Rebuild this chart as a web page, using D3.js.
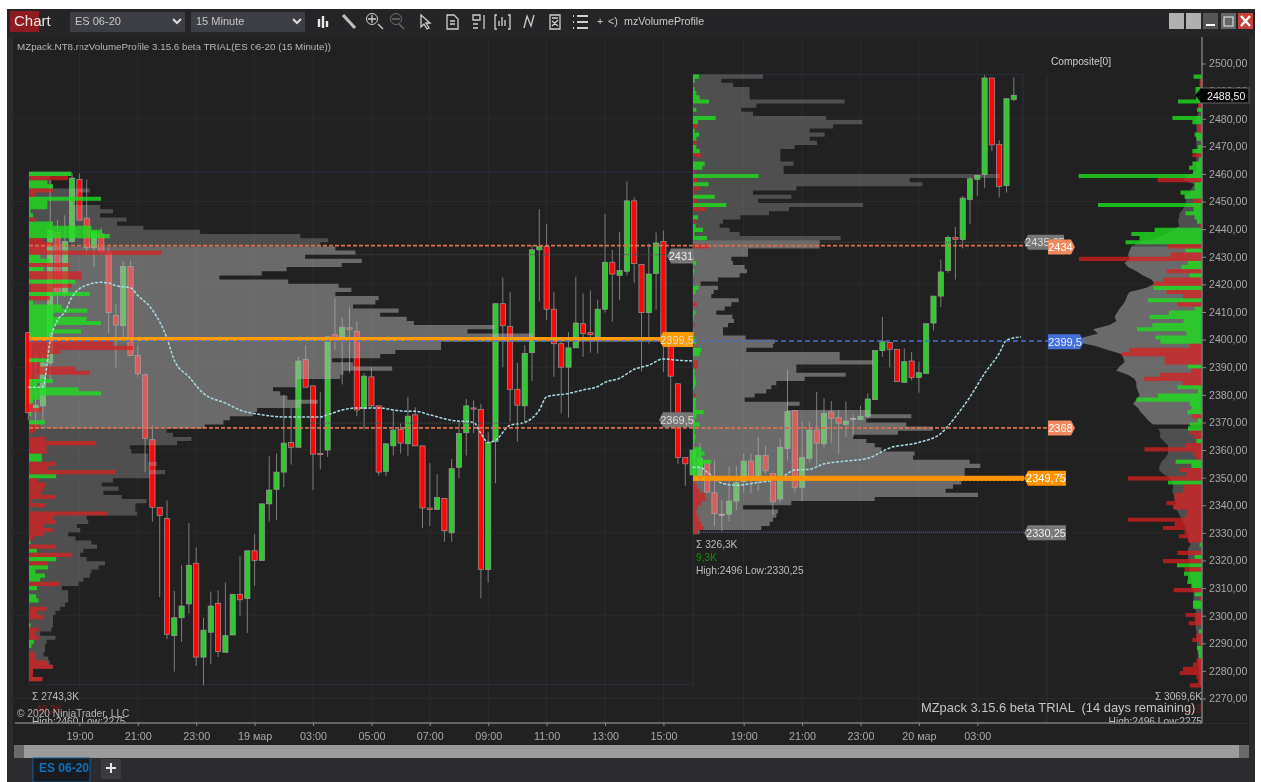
<!DOCTYPE html>
<html><head><meta charset="utf-8"><title>mzVolumeProfile</title>
<style>
  html, body { margin: 0; padding: 0; background: #fff; overflow: hidden; }
  svg { display: block; font-family: 'Liberation Sans', Arial, sans-serif; filter: blur(0.5px); }
</style>
</head>
<body>
<svg id="chart" width="1261" height="782"></svg>
<script src="https://d3js.org/d3.v7.min.js"></script>
<script>
// bar data, one entry per 15 minute bar
const open = [2402.5,2374,2376,2391.5,2438.75,2416.75,2435.5,2458,2444,2433.25,2438.25,2431.5,2408.75,2405,2426.5,2394.25,2387.25,2363.75,2339.25,2335.25,2292.75,2299.25,2304.25,2319,2285,2294,2304.5,2286.75,2293,2307.75,2306.25,2323.5,2320,2340.5,2345.75,2352,2362.75,2361,2392.75,2383.25,2358.75,2360,2401.75,2401,2404.25,2403,2375,2386.5,2376,2352.25,2361.5,2367.5,2362.25,2372.75,2361.5,2339,2338.5,2342.5,2330,2353.75,2366.25,2375.25,2374.75,2316.75,2363,2413,2404.75,2382,2376,2395.25,2432.5,2433.75,2411,2398.5,2390,2397,2405.75,2402.5,2401,2411,2428,2423.25,2424.75,2450.25,2427.25,2409.75,2424,2435.5,2399.75,2384,2357.25,2351,2349.75,2356,2344.5,2336.75,2336.75,2341.5,2348.5,2356,2349,2358,2351.5,2342.25,2360.5,2374.25,2346.5,2357,2367.25,2362.25,2373.75,2371.75,2369.25,2371.5,2371,2372.25,2378.25,2396,2399,2396.5,2384.5,2392.25,2386.25,2387.75,2406,2415.75,2425,2437,2436.25,2450.75,2458,2459.75,2494.75,2470.75,2455.75,2487];
const high = [2402.5,2395,2394.5,2457.75,2443.25,2445,2460.25,2460.25,2458,2439.75,2440.5,2433.25,2412.75,2428.5,2428.5,2398,2387.75,2369,2339.25,2341.75,2309,2318.25,2333.5,2324.75,2299.25,2308.75,2309.25,2312,2307.75,2321.5,2323.5,2329.5,2340.5,2357.75,2358.75,2380,2375.25,2393.75,2398,2383.25,2381,2401,2415,2408,2411.75,2406.5,2387.75,2390,2376,2362.5,2374.5,2369.75,2379.25,2375.5,2361.5,2355.25,2351.25,2342.5,2356.75,2370.25,2378.5,2378,2376.75,2366.5,2413,2422.5,2417.25,2391.5,2398,2434.25,2447.25,2441.75,2417.25,2401,2402.75,2422.75,2416.75,2417.75,2414.5,2445.5,2432.5,2439,2457.25,2451.5,2427.25,2434.75,2438.75,2439.5,2399.75,2384,2357.25,2360,2362.5,2356,2356.25,2341.75,2354,2354.25,2358.75,2358.75,2364.75,2361.5,2351.5,2364.25,2389,2374.25,2370.25,2370.25,2381,2378.75,2377.75,2374.5,2377.5,2372.75,2376,2380.5,2396,2408.25,2399,2396.5,2396.75,2395.5,2392,2405.75,2415.75,2429,2437.75,2440.75,2452,2458.75,2459.5,2495.75,2494.75,2472.25,2487.25,2495];
const low = [2370.75,2368.25,2370.75,2385.25,2410.75,2415.5,2435,2443.25,2431,2426.25,2430.75,2402.25,2389.75,2401,2394,2386.5,2352,2334,2306.75,2291.5,2279.75,2290.5,2300.75,2281.75,2274.75,2282.5,2285,2286.75,2293,2299.75,2293.75,2310.75,2320,2334,2334.75,2346.5,2354.75,2361,2382.75,2345.5,2353,2357.5,2396.25,2383.75,2388,2372.25,2367.5,2375.25,2350.75,2350.5,2358,2358.75,2357.75,2361.5,2331.75,2332.5,2338.25,2326.75,2326.75,2349.75,2358,2366,2306.25,2312,2348,2390,2370.25,2363,2370.25,2385,2413.75,2407,2386.5,2373.25,2371.75,2397,2393.75,2395.25,2395,2409.75,2406.5,2414.25,2423.25,2420.5,2388.5,2398.5,2410.75,2388.25,2371.5,2355,2347,2351,2349.75,2344.75,2332.5,2330.5,2334.25,2338.25,2344.5,2344.5,2345.25,2351.25,2336.5,2341,2356.25,2344.5,2341.5,2355.5,2354,2360.75,2362.5,2358.5,2364.75,2364.75,2370.75,2371.25,2378.25,2393.75,2390,2384.75,2384.25,2385.25,2380.75,2387.75,2403.25,2411.75,2424.25,2421.75,2433,2441.75,2452,2455,2468.25,2451.5,2453.25,2486.25];
const close = [2373.5,2376.25,2391.5,2439.5,2416.75,2435.5,2458.5,2443.25,2433.25,2439,2431.75,2409.75,2405.25,2426.5,2394.25,2387.75,2364.25,2339.25,2336.25,2293.25,2299.25,2303.5,2318.25,2285,2294.75,2303.5,2287,2292.75,2307.75,2305.75,2323.5,2320,2340.5,2345.5,2352,2362.5,2361,2392.25,2382.75,2358.5,2358.5,2401,2400.5,2404.5,2403.75,2374.5,2386.75,2376,2352,2362.25,2367.25,2362.5,2372.25,2361.5,2339,2338.5,2342.75,2330.75,2353.25,2366,2376,2375,2316.75,2362.75,2413,2405,2382,2376.25,2395,2432.5,2433.75,2411,2398.5,2390,2397,2406,2402.25,2401.75,2411,2428,2423.75,2425,2450.25,2427.5,2409.75,2423.75,2435,2400.5,2386.75,2357.25,2355,2360,2357,2344.75,2337,2336.75,2341.5,2348.25,2356,2349,2358,2352.5,2341.25,2361,2374,2346.5,2357.25,2367.25,2362.5,2373.25,2371.5,2369.75,2370.5,2371.5,2372.25,2378.5,2396,2399.25,2396.5,2384.75,2392,2386.25,2388,2405.75,2415.75,2424.5,2437,2436.25,2451.25,2458.25,2459.5,2494.75,2470.5,2455.5,2487.25,2488.5];

// session 1 profile, K contracts per 1,5 point row from the top
const vol1 = [5.3,2.6,2.8,3,7.6,6.2,5.8,5.5,8.9,10.5,8.9,12.2,11,14.3,21.4,33.9,37.4,36.4,38.3,40.8,34.5,41.6,39.1,32.2,29.1,23.8,32.4,38.7,40.3,38.3,43.7,43.3,40.5,46.2,43.9,47.2,48.1,58.2,54.8,63,83,51.5,51.5,45.8,43.9,37.9,40.5,45.4,39.3,38.9,33.5,33.5,30.5,31.4,32.3,36.1,33.9,28.5,28,25.1,24.3,22,17.2,18,20.3,18.5,12.6,12.8,14.9,14.9,16,15.1,17,15.1,10.5,9.1,11.2,9.3,11.6,14.7,13.3,13.3,13.5,7.2,7.4,6,6.4,4.9,5.8,7.8,8.5,6.8,6.4,7.2,9.5,8.7,7.8,7.6,6.8,6.2,4.1,4.9,4.9,4.9,4.5,3.9,3.3,3,3,3,2.8,1.4,3.3,2.2,2,2,1.8,2.4,2.6,3,0.5,0.3,1.6];
const delta1 = [5.3,-4.9,2.3,3,-3,-0.8,9,2.3,2.3,0.2,0.5,-0.8,3,7.8,9.1,10.1,-1.8,-3,-2.2,-16.6,1.4,2.6,-5,1.8,-6.6,-6.6,5.8,-5.3,-3,7.6,-2.6,0.5,4.1,7.3,3,7.2,9,3,6.5,2.6,-10.5,-10.5,-13,-3.9,-2.6,2.2,-1.4,-5.8,-7.6,-1,3,1,6.2,9,1.4,0.5,-0.5,-1.6,0.3,-0.1,2,-1.4,-0.8,-0.1,-2,-8.3,-2.2,-2.2,1.6,1.6,-3.3,-2.4,-10.9,3.4,-1,-2,-1.8,-1.6,-3.3,-0.3,-2.1,-0.1,-9.8,-3.1,-3.3,-1.8,-3,-1.8,-0.5,0.2,-3.3,1,-5.3,3.4,-2.4,2.4,0.8,2,1.4,-3.9,1,-0.1,0.9,1.2,-0.1,-2.2,-1,-1.8,-0.1,0.2,-1.2,-0.8,-1.2,0.6,0.3,-0.1,-0.8,-0.9,-2.4,-3,-0.5,-0.5,-1.7];

// session 2 profile
const vol2 = [2.1,0.85,1.2,1.7,1.7,1.7,4.55,1.9,1.45,1.8,4,5.08,4.2,3.5,3.95,3.5,3.72,3.05,2.62,2.62,2.62,3.02,2.72,2.72,9.2,6.5,6.88,3.1,1.8,2.95,1.95,5.1,2.88,2.28,1.42,0.9,0.8,1.1,1.4,4.43,3.8,3.8,1.65,1.65,1.15,1.2,1.55,1.62,1.4,0.75,0.23,0.75,0.62,0.55,1.37,1.15,0.95,0.7,1.18,1.23,1.05,0.9,0.9,1.58,2.45,2.4,1.6,4.4,4.4,5.4,3.1,3.1,4.58,3.35,2.5,2.35,2.2,1.85,1.55,3.2,2.85,5.3,6.55,5.2,6.4,7.2,6.15,4.8,5.2,5.45,5.65,6.65,6.6,8.3,8.62,8.15,8.15,9.8,8.05,7.8,7.58,8.55,5.45,2.95,1.5,2.55,2.5,2.4,2.3,2.05,0.2];
const delta2 = [0.18,0.05,0,0.05,0.1,0.2,0.48,0,0.1,0,0.68,0.15,-0.12,0.05,0.18,0.1,-0.1,0.1,0.2,-0.25,0,0.35,0.28,-0.05,1.97,-0.12,0.47,-0.18,-0.05,0.65,-0.12,1,-0.38,0,0.15,-0.08,0.08,0.3,0.05,0.42,0,-0.48,0,0,0.03,0.1,0,0.05,0,-0.03,0,0.17,0.08,0,0,-0.12,0,0.08,0.03,0,-0.05,0,0.03,0.05,0.1,-0.03,0.25,0.2,0,-0.15,-0.15,0.05,0.05,0.08,0.1,0.05,0,-0.08,0.1,0.08,0.08,0.32,0.1,0.05,0.2,0.05,0.05,0.08,0.06,0.03,0.25,0.35,0.25,0.55,0.3,0.15,0.15,0.15,-0.05,-0.12,-0.2,-0.35,-0.4,-0.25,-0.15,-0.1,-0.12,-0.2,-0.25,-0.32,-0.15];

// composite profile on the right edge
const volC = [0.8,1,1.2,1.5,1.5,1.5,1.5,1.5,1.5,2,2.8,2.8,2.8,2.8,2.8,2.8,2.8,2.8,2.8,2.8,2.8,2.8,2.8,2.8,7.8,9.2,3.7,5.3,6.2,8.7,7.8,8.7,9.5,11.2,11.5,12,11.2,14.5,17.8,23.7,31.2,35.3,36.2,37,36.2,38.7,37,32.8,29.5,25.3,23.7,27.8,36.2,37.5,38.2,39.5,41.2,42.5,43.7,42.8,46.2,54.5,52,59.5,63.7,53.7,47,40.3,39.2,38.7,41.2,42.8,37,33.7,32.8,32.8,32,31.2,32.8,34.5,32,30.7,28.7,27,24.5,22,20.8,21.2,19.2,17,17,17,18.2,20.3,21.2,21.5,19.2,15.8,14.5,14.5,14.8,14.2,13.7,12.8,14.5,12,11.2,9.8,9.2,8.2,7.3,7,6.5,5.8,7,7,7,6.5,6.2,6.2,6.2,5.8,5.3,4.8,4.5,4.2,4.2,4.2,3.7,3.2,3.2,3.2,3.2,3.2,2.8,2.8,2.5,2.5,2.5,2.2,2.2,1.8,1.8,1.5,1.5,1.2,1.2,0.8];
const deltaC = [4.2,-1.2,-1,3.2,3.2,3,12,-2,2.5,0.5,14.8,4.8,-2,-2,3.7,2.8,0.5,2,4.8,-4.8,1.5,4.8,6.5,4.5,61.7,-22.2,3.7,3.7,10.7,8.7,-4.5,52,4.2,8.3,3.7,2.5,-1.2,23.7,35.3,31.2,38.2,-17.3,8.3,-15.7,-61.5,7,10.3,-17.8,6.2,-19.5,-24.2,24.2,-17.8,-9.5,27,-12.5,3.7,16.5,26.2,9.2,24.8,32.5,7.8,23.2,20.8,-6,-36.5,-40,-18.7,-18.7,7,-5.3,-21.2,-29,-9.8,12.2,2,22,32.8,6.2,5.3,7.3,-5.3,2,6.2,7,-6.2,-3.7,2.8,-8.3,-28.7,-4.5,-3.2,13.2,5.3,-11.2,-7.8,-37,17,-9.5,-9.5,-13.7,-13.7,-17.8,-14.5,-7.5,-7.8,-37,-13.7,-19.5,-8.7,-11.5,-7,1.2,-0.3,-12.3,3.7,-19.5,12.5,-8.7,9,7,7.3,5.3,-14.2,3.7,-1.2,4.5,4.5,0.3,-8.3,-3.7,-6.7,-0.3,1.5,-2.8,-4.8,-1.5,2.5,1.7,1.5,-2.8,-4.5,-9.5,-11.2,-2.8,-2,-6.2];

// dashed average line, bar number and price
const maBars1 = [0,2,3,4,5,6,8,10,11,12,14,15,17,19,20,22,24,27,29,32,35,38,40,41,43,45,48,50,52,53,55,58,61,62,63,64,66,68,70,71,74,76,78,79,81,83,85,87,89,91];
const maPrice1 = [2382.75,2382.75,2399.75,2407,2410,2415.5,2419.75,2420.75,2420.5,2419.5,2418.75,2416,2410.75,2400.5,2392.5,2386.5,2380.5,2377,2374.5,2372.75,2372,2372,2372,2372.75,2374.5,2375.25,2375.25,2374.5,2374,2374,2372.75,2370.75,2370,2366,2362.75,2363.5,2369,2370,2374.5,2379.25,2380.5,2381.75,2383,2384.5,2386,2389.25,2390.75,2393,2392.5,2392.25];
const maBars2 = [91,92,93,95,97,100,103,105,107,109,112,115,118,122,125,127,129,131,133,134,136];
const maPrice2 = [2353.75,2353.75,2352,2348,2347.25,2348.25,2349.75,2352.75,2353,2355,2356,2357,2360.75,2362.75,2366,2372,2379.25,2387.75,2395,2399.75,2401];

const priceTicks = d3.range(2270, 2501, 10);
const gridPrices = [2270,2300,2330,2360,2390,2420,2450,2480];
const timeBars = [7,15,23,31,39,47,55,63,71,79,87,98,106,114,122,130];
const timeLabels = ['19:00','21:00','23:00','19 мар','03:00','05:00','07:00','09:00','11:00','13:00','15:00','19:00','21:00','23:00','20 мар','03:00'];

const svg = d3.select('#chart');
const comma = v => String(v).replace('.', ',');

const xBar = d3.scaleLinear().domain([0, 135]).range([28.3, 1013.8]);
const y = d3.scaleLinear().domain([2270, 2500]).range([698.5, 63.5]);
const vol1X = d3.scaleLinear().domain([0, 83]).range([29, 693]);
const vol2X = d3.scaleLinear().domain([0, 9.9]).range([693, 1023]);
const compX = d3.scaleLinear().domain([0, 60]).range([1202, 1082]);
const rowSize = 1.5;

const lightGray = 'rgba(180,180,180,0.5)';
const darkGray = 'rgba(186,186,186,0.3)';
const buyColor = 'rgba(30,222,30,0.8)';
const sellColor = 'rgba(222,30,30,0.72)';

// window frame
function box(x, yy, w, h, fill, stroke) {
  return svg.append('rect').attr('x', x).attr('y', yy).attr('width', w).attr('height', h)
    .attr('fill', fill).attr('stroke', stroke || 'none');
}
function label(x, yy, str, size, color, anchor) {
  return svg.append('text').attr('x', x).attr('y', yy).text(str)
    .attr('font-size', size).attr('fill', color).attr('text-anchor', anchor || 'start');
}
function stroke(d, color, w) {
  svg.append('path').attr('d', d).attr('fill', 'none').attr('stroke', color || '#cfcfcf').attr('stroke-width', w || 1.3);
}

box(7, 9, 1248, 773, '#2c2c2e');
box(7, 9, 1248, 28, '#252527');
box(13, 37, 1236, 686, '#212121');
box(10, 11, 29, 21, '#8e1b1f');
label(14, 26, 'Chart', 15, '#f2e6e6');
box(70, 12, 115, 20, '#3d3f44');
label(75, 25, 'ES 06-20', 11, '#c8c8c8');
box(191, 12, 114, 20, '#3d3f44');
label(196, 25, '15 Minute', 11, '#c8c8c8');
stroke('M173 19l4 4l4 -4', '#ddd', 2);
stroke('M293 19l4 4l4 -4', '#ddd', 2);

// toolbar icons
stroke('M319 19v8M323 16v12M327 21v6', '#e8e8e8', 2.4);
stroke('M343 15l12 13', '#bdbdbd', 3.2);
stroke('M378 24l5 5M368 19h8M372 15v8');
svg.append('circle').attr('cx', 372).attr('cy', 19).attr('r', 5.5).attr('fill', 'none').attr('stroke', '#cfcfcf');
stroke('M399 24l5 5M392 19h8', '#6e6e6e');
svg.append('circle').attr('cx', 396).attr('cy', 19).attr('r', 5.5).attr('fill', 'none').attr('stroke', '#6e6e6e');
stroke('M421 15l0 12l3 -3l3 5l2 -1l-3 -5l4 0z');
stroke('M447 15h7l4 4v10h-11zM450 21h5M450 24h5');
stroke('M473 15h7v5h-7zM484 15v14M473 24h5M473 28h5');
stroke('M497 15h-2v14h2M508 15h2v14h-2M499 26v-5M502 26v-9M505 26v-6');
stroke('M524 28l3 -12l4 10l3 -11');
stroke('M550 15h10v14h-10zM552 18h6M552 26l6 -6M552 21l6 5');
stroke('M577 16h11M577 22h11M577 28h11M573 16h1M573 22h1M573 28h1', '#cfcfcf', 2);
label(597, 25, '+', 10.7, '#c8c8c8');
label(608, 25, '<)', 10.7, '#c8c8c8');
label(624, 25, 'mzVolumeProfile', 10.7, '#c8c8c8');

// window buttons
box(1169, 13, 15, 16, '#b0b0b0');
box(1186, 13, 15, 16, '#b0b0b0');
box(1203, 13, 15, 16, '#555');
stroke('M1206 25h9', '#fff', 2);
box(1221, 13, 15, 16, '#666');
box(1224, 17, 9, 9, 'none', '#eee');
box(1238, 13, 15, 16, '#c8403c');
stroke('M1241 16l9 10M1250 16l-9 10', '#fff', 2.4);

label(17, 50, 'MZpack.NT8.mzVolumeProfile 3.15.6 beta TRIAL(ES 06-20 (15 Minute))', 9.8, '#b8b8b8');
label(1051, 65, 'Composite[0]', 10.2, '#cccccc');

// grid
svg.append('g').selectAll('line').data(gridPrices).enter().append('line')
  .attr('x1', 13).attr('x2', 1202).attr('y1', d => y(d)).attr('y2', d => y(d)).attr('stroke', '#2a2a2a');
svg.append('g').selectAll('line').data(timeBars).enter().append('line')
  .attr('x1', d => xBar(d)).attr('x2', d => xBar(d)).attr('y1', 37).attr('y2', 723).attr('stroke', '#2a2a2a');

// profile outlines
const outline = [[vol1X(0), vol1X(83), 2460.75, 2275], [vol2X(0), vol2X(9.9), 2496, 2330.25]];
outline.forEach(b => {
  box(b[0], y(b[2]), b[1] - b[0], y(b[3]) - y(b[2]), 'none', '#2a3040');
});
svg.append('line').attr('x1', 1047).attr('x2', 1047).attr('y1', y(2496)).attr('y2', 723).attr('stroke', '#2a3040');

// candles
const n = open.length;
const bars = d3.range(n);
const candles = svg.append('g');
candles.selectAll('line').data(bars).enter().append('line')
  .attr('x1', i => xBar(i)).attr('x2', i => xBar(i))
  .attr('y1', i => y(high[i])).attr('y2', i => y(low[i]))
  .attr('stroke', '#7c7c7c').attr('stroke-width', 1);
candles.selectAll('rect').data(bars).enter().append('rect')
  .attr('x', i => xBar(i) - 2.6).attr('width', 5.2)
  .attr('y', i => y(Math.max(open[i], close[i])))
  .attr('height', i => Math.max(1.2, Math.abs(y(open[i]) - y(close[i]))))
  .attr('fill', i => close[i] > open[i] ? '#2fc92f' : (close[i] < open[i] ? '#ff0606' : '#d8d8d8'))
  .attr('stroke', '#9a9a9a').attr('stroke-width', 0.7);

// one path per colour so the rows have no seams between them
function rowsPath(rows, top, edge0, edge1) {
  const p = d3.path();
  rows.forEach(r => {
    const t = y(top - rowSize * r.k), h = y(top - rowSize * (r.k + 1)) - t;
    p.rect(Math.min(edge0(r.v), edge1(r.v)), t, Math.abs(edge1(r.v) - edge0(r.v)), h);
  });
  return p.toString();
}
function profile(vols, deltas, top, xs, isValue) {
  const rows = vols.map((v, k) => ({ v: v, k: k, p: top - rowSize * k }));
  const dRows = deltas.map((v, k) => ({ v: Math.abs(v), k: k, buy: v > 0 })).filter(r => r.v > 0);
  const from = () => xs(0), to = r => xs(r);
  svg.append('path').attr('d', rowsPath(rows.filter(r => isValue(r.p)), top, from, to)).attr('fill', lightGray);
  svg.append('path').attr('d', rowsPath(rows.filter(r => !isValue(r.p)), top, from, to)).attr('fill', darkGray);
  svg.append('path').attr('d', rowsPath(dRows.filter(r => r.buy), top, from, to)).attr('fill', buyColor);
  svg.append('path').attr('d', rowsPath(dRows.filter(r => !r.buy), top, from, to)).attr('fill', sellColor);
}
profile(vol1, delta1, 2460.75, vol1X, p => p <= 2434 && p >= 2368);
profile(vol2, delta2, 2496, vol2X, p => p <= 2436);

// composite, smooth outline in two tones
const compRows = volC.map((v, k) => ({ v: v, p: 2496 - rowSize * k - rowSize / 2 }));
const compArea = d3.area().y(d => y(d.p)).x0(compX(0)).x1(d => compX(d.v));
svg.append('path').attr('d', compArea.defined(d => d.p <= 2434 && d.p >= 2368)(compRows)).attr('fill', lightGray);
svg.append('path').attr('d', compArea.defined(d => d.p >= 2433.5)(compRows)).attr('fill', darkGray);
svg.append('path').attr('d', compArea.defined(d => d.p <= 2368.5)(compRows)).attr('fill', darkGray);
const compDelta = deltaC.map((v, k) => ({ v: Math.abs(v), k: k, buy: v > 0 }));
const compFrom = () => compX(0), compTo = v => compX(v);
svg.append('path').attr('d', rowsPath(compDelta.filter(r => r.buy), 2496, compFrom, compTo)).attr('fill', buyColor);
svg.append('path').attr('d', rowsPath(compDelta.filter(r => !r.buy), 2496, compFrom, compTo)).attr('fill', sellColor);

// average lines
const maLine = d3.line().x(d => xBar(d[0])).y(d => y(d[1])).curve(d3.curveMonotoneX);
[[maBars1, maPrice1], [maBars2, maPrice2]].forEach(m => {
  svg.append('path').attr('d', maLine(d3.zip(m[0], m[1]))).attr('fill', 'none')
    .attr('stroke', '#a9dbe6').attr('stroke-width', 1.5).attr('stroke-dasharray', '3 1.5');
});

// level lines
function level(price, x0, x1, color, w, dash) {
  svg.append('line').attr('x1', x0).attr('x2', x1).attr('y1', y(price)).attr('y2', y(price))
    .attr('stroke', color).attr('stroke-width', w).attr('stroke-dasharray', dash || null);
}
level(2430.75, 340, 667, '#4a4a4a', 1, '1 1');
level(2369.75, 310, 660, '#4a4a4a', 1, '1 1');
level(2435.25, 820, 1024, '#4a4a4a', 1, '1 1');
level(2330.25, 693, 1024, '#5c5c5c', 1, '1 1');
level(2434, 29, 1048, '#d9704f', 1.7, '4 2');
level(2368, 29, 1048, '#d9704f', 1.7, '4 2');
level(2399.75, 29, 693, '#ff9a00', 1.4, '2 5.3');
level(2400.3, 29, 693, '#ff9a00', 3.6);
level(2399.5, 29, 1048, '#4a70d8', 1.5, '5 3');
level(2349, 693, 1024, '#ff9400', 1.4, '2 2');
level(2349.75, 693, 1024, '#ff9400', 5);

// price tags
function tag(x0, x1, price, str, fill, color, side) {
  const c = y(price), h = 7.5, t = 4;
  const d = side === 'left'
    ? `M${x0} ${c}L${x0 + t} ${c - h}H${x1}V${c + h}H${x0 + t}Z`
    : `M${x0} ${c - h}H${x1 - t}L${x1} ${c}L${x1 - t} ${c + h}H${x0}Z`;
  svg.append('path').attr('d', d).attr('fill', fill);
  label((x0 + x1) / 2 + (side === 'left' ? 1 : -1), c + 4, str, 11, color, 'middle');
}
tag(667, 693, 2430.25, comma(2431), '#777', '#eee', 'left');
tag(659, 693, 2371, comma(2369.5), '#777', '#ddd', 'left');
tag(659, 693, 2400, comma(2399.5), '#ff9a00', '#ddd', 'left');
tag(1024, 1064, 2435.25, comma(2435.25), '#777', '#ddd', 'left');
tag(1048, 1075, 2433.5, comma(2434), '#f28a5f', '#fff', 'right');
tag(1048, 1084, 2399.25, comma(2399.5), '#4670dc', '#e8eeff', 'right');
tag(1048, 1075, 2368, comma(2368), '#f28a5f', '#fff', 'right');
tag(1024, 1066, 2349.75, comma(2349.75), '#ff9400', '#fff', 'left');
tag(1024, 1066, 2330, comma(2330.25), '#777', '#eee', 'left');

// session notes
label(696, 548, 'Σ 326,3K', 10.2, '#bdbdbd');
label(696, 561, '9,3K', 10.2, '#0f8f0f');
label(696, 574, 'High:2496 Low:2330,25', 10.2, '#bdbdbd');
label(32, 700, 'Σ 2743,3K', 10.2, '#bdbdbd');
label(36, 713, '49,3K', 10.2, '#8a1c1c');
label(32, 725, 'High:2460 Low:2275', 10.2, '#bdbdbd');
label(17, 717, '© 2020 NinjaTrader, LLC', 10.2, '#b5b5b5');
label(1202, 700, 'Σ 3069,6K', 10.2, '#bdbdbd', 'end');
label(1202, 713, '313', 10.2, '#7a1c1c', 'end');
label(1202, 725, 'High:2496 Low:2275', 10.2, '#bdbdbd', 'end');
label(921, 712, 'MZpack 3.15.6 beta TRIAL  (14 days remaining)', 12.9, '#c4c4c4').style('white-space', 'pre');

// bottom strip covers what runs past the time axis
box(7, 724, 1248, 58, '#2c2c2e');
box(13, 724, 1236, 21, '#212121');

// axes
const yAxis = d3.axisRight(y).tickValues(priceTicks).tickSize(4).tickPadding(3)
  .tickFormat(d => d3.format('.2f')(d).replace('.', ','));
const yG = svg.append('g').attr('transform', 'translate(1202,0)').call(yAxis);
yG.selectAll('text').attr('font-size', 10.6).attr('fill', '#a8a8a8').attr('font-family', 'inherit');
yG.selectAll('.tick line').attr('stroke', '#8a8a8a');
yG.select('.domain').attr('stroke', '#7a7a7a').attr('stroke-width', 1.5).attr('d', 'M0,37V723');

const xAxis = d3.axisBottom(xBar).tickValues(timeBars).tickSize(3).tickPadding(6)
  .tickFormat((d, i) => timeLabels[i]);
const xG = svg.append('g').attr('transform', 'translate(0,723)').call(xAxis);
xG.selectAll('text').attr('font-size', 10.8).attr('fill', '#a8a8a8').attr('font-family', 'inherit');
xG.selectAll('.tick line').attr('stroke', '#8a8a8a');
xG.select('.domain').attr('stroke', '#7a7a7a').attr('stroke-width', 1.5).attr('d', 'M15,0H1202');

// last price on the scale
box(1200, 88, 49, 15, '#050505', '#666');
label(1207, 99.5, '2488,50', 10.6, '#f0f0f0');
svg.append('path').attr('d', `M1195 ${y(2488.5)}l6 -7v14z`).attr('fill', '#050505');

// scrollbar and tabs
box(14, 745, 1235, 13, '#9c9c9c');
box(14, 745, 10, 13, '#6a6a6a');
box(1239, 745, 10, 13, '#6a6a6a');
box(33, 758, 57, 24, '#191b1f', '#125d94');
label(39, 772, 'ES 06-20', 12, '#0d72c0').attr('font-weight', 700);
box(92, 758, 30, 24, '#2c2c2e');
box(101, 759, 20, 20, '#3a3a40');
stroke('M106 768h10M111 763v10', '#e4e4e4', 2);
</script>
</body></html>
